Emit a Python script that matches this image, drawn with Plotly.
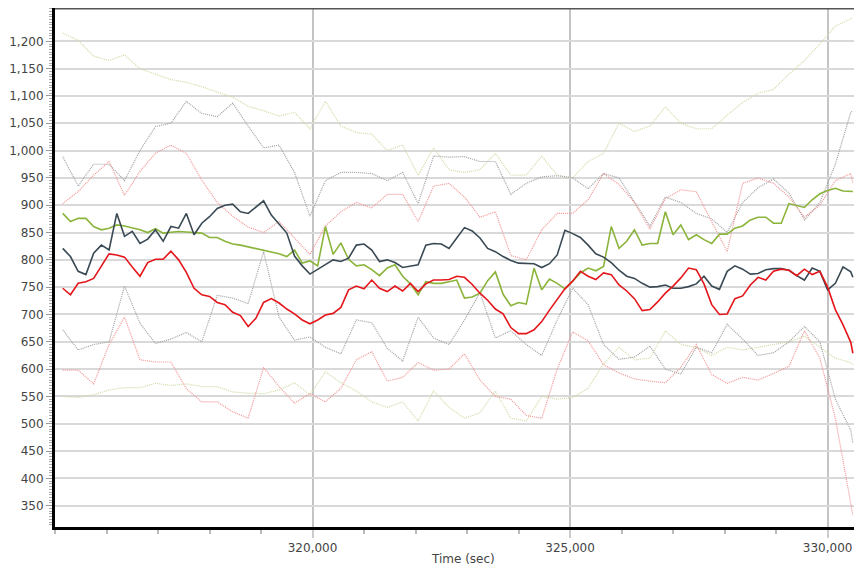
import plotly.graph_objects as go

# Sample instants (seconds)
times_fine = [315150, 315300, 315450, 315600, 315750, 315900, 316050, 316200, 316350, 316500,
              316650, 316800, 316950, 317100, 317250, 317400, 317550, 317700, 317850, 318000,
              318150, 318300, 318450, 318600, 318750, 318900, 319050, 319200, 319350, 319500,
              319650, 319800, 319950, 320100, 320250, 320400, 320550, 320700, 320850, 321000,
              321150, 321300, 321450, 321600, 321750, 321900, 322050, 322200, 322350, 322500,
              322650, 322800, 322950, 323100, 323250, 323400, 323550, 323700, 323850, 324000,
              324150, 324300, 324450, 324600, 324750, 324900, 325050, 325200, 325350, 325500,
              325650, 325800, 325950, 326100, 326250, 326400, 326550, 326700, 326850, 327000,
              327150, 327300, 327450, 327600, 327750, 327900, 328050, 328200, 328350, 328500,
              328650, 328800, 328950, 329100, 329250, 329400, 329550, 329700, 329850, 330000,
              330150, 330300, 330450, 330490]

times_coarse = [315150, 315450, 315750, 316050, 316350, 316650, 316950, 317250, 317550, 317850,
                318150, 318450, 318750, 319050, 319350, 319650, 319950, 320250, 320550, 320850,
                321150, 321450, 321750, 322050, 322350, 322650, 322950, 323250, 323550, 323850,
                324150, 324450, 324750, 325050, 325350, 325650, 325950, 326250, 326550, 326850,
                327150, 327450, 327750, 328050, 328350, 328650, 328950, 329250, 329550, 329850,
                330150, 330450, 330490]

x_ticks = [320000, 325000, 330000]
x_tick_labels = ["320,000", "325,000", "330,000"]
y_ticks = [350, 400, 450, 500, 550, 600, 650, 700, 750, 800, 850, 900, 950, 1000,
           1050, 1100, 1150, 1200]
y_tick_labels = ["350", "400", "450", "500", "550", "600", "650", "700", "750", "800",
                 "850", "900", "950", "1,000", "1,050", "1,100", "1,150", "1,200"]

# Main series
slate = [821, 806, 779, 773, 812, 827, 818, 885, 843, 852,
         830, 838, 855, 834, 861, 858, 885, 846, 867, 879,
         894, 900, 902, 888, 885, 896, 908, 882, 866, 849,
         807, 789, 774, 783, 791, 800, 797, 803, 827, 829,
         818, 797, 800, 795, 786, 788, 791, 827, 830, 829,
         821, 840, 859, 853, 840, 821, 815, 806, 799, 794,
         793, 793, 786, 793, 809, 854, 848, 841, 827, 811,
         805, 795, 781, 770, 766, 757, 750, 751, 754, 748,
         748, 751, 756, 770, 752, 746, 779, 789, 783, 774,
         775, 782, 784, 784, 781, 771, 763, 785, 779, 745,
         757, 787, 778, 768]

red = [748, 736, 757, 760, 766, 788, 811, 809, 805, 787,
       770, 795, 801, 801, 816, 800, 777, 748, 736, 733,
       722, 718, 704, 698, 678, 693, 722, 729, 721, 710,
       701, 690, 683, 690, 699, 702, 713, 745, 752, 747,
       763, 748, 742, 752, 743, 757, 742, 756, 763, 763,
       764, 770, 768, 755, 739, 726, 710, 701, 676, 665,
       665, 672, 687, 708, 727, 747, 761, 779, 770, 764,
       776, 773, 754, 743, 729, 707, 709, 723, 739, 752,
       767, 785, 782, 756, 718, 700, 701, 729, 734, 754,
       768, 763, 779, 783, 781, 771, 783, 773, 779, 750,
       709, 681, 649, 629]

green = [885, 870, 876, 876, 861, 855, 858, 864, 862, 859,
         855, 850, 857, 849, 850, 852, 851, 850, 849, 841,
         841, 834, 829, 827, 824, 821, 817, 815, 811, 806,
         818, 794, 798, 789, 861, 810, 831, 801, 789, 791,
         782, 771, 785, 791, 770, 756, 736, 760, 757, 757,
         760, 763, 730, 732, 739, 762, 778, 737, 716, 722,
         719, 785, 745, 765, 757, 747, 761, 776, 785, 780,
         788, 861, 821, 834, 855, 827, 830, 830, 888, 846,
         864, 837, 846, 837, 830, 847, 847, 858, 862, 873,
         878, 878, 867, 867, 903, 899, 896, 910, 921, 927,
         931, 926, 926, 925]

# Bounds (dotted)
green_upper = [1215, 1202, 1173, 1165, 1175, 1150, 1140, 1130, 1125, 1117,
               1107, 1098, 1081, 1073, 1063, 1070, 1040, 1090, 1045, 1033,
               1030, 1000, 1010, 955, 1005, 965, 960, 965, 995, 955,
               955, 990, 955, 950, 980, 995, 1050, 1035, 1045, 1080,
               1050, 1040, 1040, 1065, 1088, 1105, 1112, 1140, 1165, 1195,
               1228, 1240, 1243]
green_lower = [550, 548, 553, 562, 566, 566, 574, 570, 573, 568,
               568, 558, 556, 555, 562, 575, 553, 595, 575, 560,
               540, 530, 540, 505, 560, 530, 510, 520, 560, 510,
               505, 550, 545, 548, 565, 610, 640, 617, 620, 670,
               645, 640, 625, 640, 635, 640, 645, 650, 660, 640,
               620, 612, 608]
gray_upper = [989, 935, 975, 975, 945, 1000, 1044, 1050, 1090, 1068,
              1062, 1087, 1045, 1005, 1010, 960, 880, 945, 960, 960,
              958, 945, 960, 903, 990, 988, 989, 980, 980, 920,
              940, 952, 954, 950, 930, 958, 950, 905, 862, 915,
              905, 885, 875, 850, 905, 932, 948, 922, 873, 905,
              975, 1070, 1073]
gray_lower = [672, 635, 645, 650, 752, 684, 647, 655, 667, 650,
              735, 730, 720, 815, 695, 653, 659, 640, 628, 690,
              685, 638, 615, 695, 657, 645, 690, 740, 657, 670,
              645, 625, 690, 748, 718, 645, 618, 622, 642, 600,
              591, 640, 630, 682, 655, 625, 630, 650, 678, 650,
              545, 488, 464]
pink_upper = [903, 925, 955, 980, 918, 962, 995, 1010, 995, 946,
              905, 880, 860, 850, 870, 840, 810, 862, 888, 905,
              895, 920, 920, 870, 935, 940, 915, 878, 888, 808,
              800, 855, 885, 885, 910, 958, 938, 905, 856, 912,
              928, 925, 870, 815, 940, 950, 940, 915, 878, 900,
              945, 958, 940]
pink_lower = [598, 598, 573, 645, 695, 617, 613, 613, 564, 540,
              540, 522, 510, 603, 568, 538, 555, 540, 565, 617,
              632, 578, 585, 612, 598, 600, 628, 580, 550, 545,
              515, 510, 600, 668, 652, 608, 593, 582, 578, 575,
              603, 645, 590, 574, 585, 580, 592, 605, 670, 620,
              510, 360, 333]

fig = go.Figure()

dotted = [
    (green_upper, "#cfdca6"),
    (green_lower, "#cfdca6"),
    (gray_upper, "#a0a0a0"),
    (gray_lower, "#a0a0a0"),
    (pink_upper, "#f29494"),
    (pink_lower, "#f29494"),
]
for ys, col in dotted:
    fig.add_trace(go.Scatter(x=times_coarse, y=ys, mode="lines",
                             line=dict(color=col, width=1.2, dash="1px,1px"),
                             hoverinfo="skip"))

for ys, col in [(green, "#8ab43a"), (slate, "#3a4a54"), (red, "#e3161b")]:
    fig.add_trace(go.Scatter(x=times_fine, y=ys, mode="lines",
                             line=dict(color=col, width=1.6)))

font = dict(family="DejaVu Sans, Verdana, sans-serif", size=12, color="#444444")

# The page body adds an 8px offset, so margins are reduced accordingly.
fig.update_layout(
    width=862, height=572,
    margin=dict(l=47, r=12, t=0, b=53, autoexpand=False),
    paper_bgcolor="white", plot_bgcolor="white",
    showlegend=False,
    font=font,
    xaxis=dict(range=[315000, 330590], tickvals=x_ticks, ticktext=x_tick_labels,
               showgrid=True, gridcolor="#c4c4c4", gridwidth=1.5,
               showline=True, linecolor="black", linewidth=3,
               ticks="outside", ticklen=8, tickcolor="#cccccc", tickwidth=1.5,
               minor=dict(dtick=1000, tick0=0, ticks="outside", ticklen=4,
                          tickcolor="#bbbbbb", showgrid=False),
               zeroline=False, tickfont=font, automargin=False),
    yaxis=dict(range=[311, 1261], tickvals=y_ticks, ticktext=y_tick_labels,
               showgrid=True, gridcolor="#d9d9d9", gridwidth=2,
               showline=True, linecolor="black", linewidth=3,
               ticks="outside", ticklen=6, tickcolor="#999999",
               minor=dict(dtick=5, tick0=0, ticks="outside", ticklen=3,
                          tickcolor="#aaaaaa", showgrid=False),
               zeroline=False, tickfont=font, automargin=False),
    shapes=[dict(type="line", xref="paper", yref="paper", x0=0, x1=1.02, y0=0.999, y1=0.999,
                 line=dict(color="#555555", width=2))],
    annotations=[dict(text="Time (sec)", xref="paper", yref="paper", x=0.508, y=0,
                      yshift=-32, yanchor="middle", xanchor="center", showarrow=False,
                      font=font)],
)

fig.write_html("out.html")
